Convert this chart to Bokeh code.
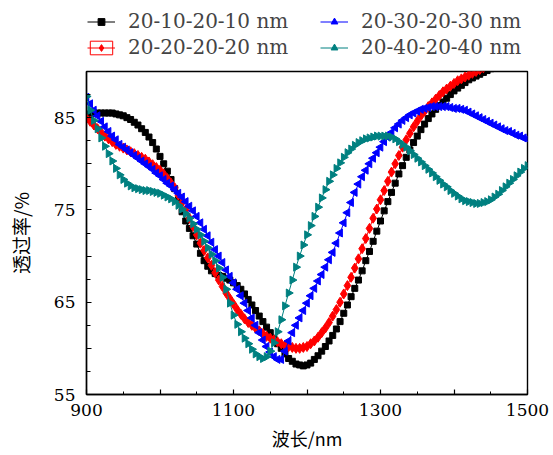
import math
from bokeh.plotting import figure
from bokeh.layouts import column
from bokeh.models import (ColumnDataSource, FixedTicker, Legend, LegendItem, Range1d)
from bokeh.embed import file_html
from bokeh.resources import INLINE

wavelength = list(range(900, 1505, 5))

t_10 = [85.2, 85.4, 85.5, 85.5, 85.5, 85.5, 85.5, 85.5, 85.4, 85.3,
        85.2, 85.0, 84.8, 84.5, 84.2, 83.8, 83.4, 82.9, 82.3, 81.6,
        80.8, 80.0, 79.2, 78.3, 77.3, 76.1, 74.8, 73.8, 73.0, 72.2,
        71.3, 70.3, 69.5, 68.9, 68.4, 68.1, 67.9, 67.8, 67.6, 67.4,
        67.1, 66.8, 66.4, 65.9, 65.3, 64.7, 64.1, 63.5, 62.9, 62.3,
        61.7, 61.1, 60.5, 60.0, 59.4, 58.9, 58.6, 58.3, 58.2, 58.1,
        58.2, 58.4, 58.8, 59.2, 59.7, 60.2, 60.8, 61.4, 62.1, 62.9,
        63.8, 64.7, 65.6, 66.5, 67.4, 68.4, 69.5, 70.5, 71.6, 72.7,
        73.8, 74.9, 75.9, 76.9, 77.9, 78.9, 79.8, 80.7, 81.5, 82.3,
        83.0, 83.7, 84.3, 84.9, 85.4, 85.9, 86.3, 86.7, 87.1, 87.5,
        87.9, 88.2, 88.5, 88.8, 89.1, 89.3, 89.5, 89.7, 89.9, 90.1,
        90.3, 90.5, 90.7]

t_20 = [84.9, 84.6, 84.2, 83.8, 83.4, 83.0, 82.7, 82.4, 82.1, 81.9,
        81.7, 81.5, 81.3, 81.1, 80.9, 80.7, 80.5, 80.2, 79.9, 79.6,
        79.3, 78.9, 78.4, 77.9, 77.4, 76.6, 75.8, 75.0, 74.1, 73.2,
        72.3, 71.4, 70.6, 69.8, 69.0, 68.2, 67.4, 66.7, 66.0, 65.4,
        64.8, 64.2, 63.7, 63.2, 62.8, 62.5, 62.2, 61.9, 61.6, 61.3,
        61.1, 60.9, 60.7, 60.5, 60.3, 60.2, 60.1, 60.0, 60.0, 60.1,
        60.2, 60.5, 60.8, 61.2, 61.7, 62.2, 62.8, 63.5, 64.2, 65.0,
        65.9, 66.8, 67.7, 68.7, 69.7, 70.8, 71.9, 73.0, 74.1, 75.1,
        76.1, 77.1, 78.1, 79.1, 80.0, 80.9, 81.8, 82.6, 83.3, 84.0,
        84.6, 85.2, 85.7, 86.2, 86.6, 87.0, 87.4, 87.8, 88.1, 88.4,
        88.7, 89.0, 89.2, 89.4, 89.6, 89.8, 90.0, 90.2, 90.4]

t_30 = [87.2, 86.5, 85.8, 85.2, 84.6, 84.0, 83.5, 83.0, 82.6, 82.1,
        81.8, 81.5, 81.2, 80.9, 80.6, 80.3, 80.0, 79.7, 79.4, 79.0,
        78.7, 78.3, 77.9, 77.6, 77.2, 76.8, 76.4, 75.9, 75.4, 74.9,
        74.3, 73.6, 72.9, 72.2, 71.5, 70.7, 70.0, 69.3, 68.5, 67.8,
        67.1, 66.4, 65.7, 64.9, 64.1, 63.3, 62.5, 61.7, 60.9, 60.2,
        59.6, 59.1, 58.8, 58.8, 59.7, 60.8, 61.7, 62.5, 63.3, 64.1,
        64.9, 65.7, 66.5, 67.3, 68.0, 68.8, 69.6, 70.4, 71.4, 72.5,
        73.6, 74.7, 75.8, 76.9, 77.8, 78.6, 79.3, 80.0, 80.6, 81.2,
        81.8, 82.4, 82.9, 83.4, 83.9, 84.3, 84.7, 85.0, 85.3, 85.5,
        85.7, 85.9, 86.0, 86.1, 86.2, 86.2, 86.2, 86.2, 86.2, 86.1,
        86.0, 86.0, 85.9, 85.8, 85.6, 85.4, 85.2, 85.0, 84.8, 84.6,
        84.4, 84.2, 84.0, 83.8, 83.6, 83.5, 83.3, 83.1, 83.0, 82.8,
        82.7]

t_40 = [87.3, 85.8, 84.7, 83.8, 82.8, 81.9, 81.1, 80.3, 79.5, 78.8,
        78.3, 77.9, 77.6, 77.4, 77.3, 77.2, 77.1, 77.1, 77.0, 76.9,
        76.8, 76.6, 76.4, 76.2, 75.9, 75.5, 75.1, 74.6, 74.1, 73.5,
        72.9, 72.3, 71.6, 70.9, 70.2, 69.5, 68.7, 67.7, 66.4, 64.9,
        63.6, 62.6, 61.8, 61.1, 60.5, 59.9, 59.4, 59.1, 58.9, 59.1,
        59.7, 60.6, 61.8, 63.1, 64.6, 66.0, 67.4, 68.8, 70.0, 71.2,
        72.3, 73.3, 74.3, 75.3, 76.3, 77.2, 78.1, 78.8, 79.5, 80.1,
        80.7, 81.2, 81.6, 82.0, 82.3, 82.5, 82.7, 82.8, 82.9, 83.0,
        83.0, 83.0, 83.0, 82.9, 82.7, 82.4, 82.1, 81.8, 81.4, 81.0,
        80.6, 80.2, 79.8, 79.4, 79.0, 78.6, 78.2, 77.8, 77.5, 77.1,
        76.8, 76.5, 76.2, 76.0, 75.9, 75.8, 75.7, 75.7, 75.8, 75.9,
        76.1, 76.4, 76.7, 77.1, 77.5, 77.9, 78.3, 78.7, 79.1, 79.5,
        79.8]

labels = ["20-10-20-10 nm", "20-20-20-20 nm", "20-30-20-30 nm", "20-40-20-40 nm"]
colors = ["black", "red", "blue", "#008080"]
x_tick_labels = {900: "900", 1100: "1100", 1300: "1300", 1500: "1500"}
y_tick_labels = {55: "55", 65: "65", 75: "75", 85: "85"}
x_title = "波长/nm"
y_title = "透过率/%"

SERIF = "DejaVu Serif"
CJK = "Noto Sans CJK SC"
TOP_H = 60

src10 = ColumnDataSource(dict(x=wavelength[:len(t_10)], y=t_10))
src20 = ColumnDataSource(dict(x=wavelength[:len(t_20)], y=t_20))
src30 = ColumnDataSource(dict(x=wavelength[:len(t_30)], y=t_30))
src40 = ColumnDataSource(dict(x=wavelength[:len(t_40)], y=t_40))

LEFT = math.pi / 2     # triangle pointing left
RIGHT = -math.pi / 2   # triangle pointing right

def draw_series(fig):
    r = {}
    r["l10"] = fig.line("x", "y", source=src10, line_color=colors[0], line_width=1)
    r["s10"] = fig.scatter("x", "y", source=src10, marker="square", size=6, color=colors[0])
    r["l20"] = fig.line("x", "y", source=src20, line_color=colors[1], line_width=1)
    r["s20"] = fig.scatter("x", "y", source=src20, marker="diamond", size=10, color=colors[1])
    r["l30"] = fig.line("x", "y", source=src30, line_color=colors[2], line_width=1)
    r["s30"] = fig.scatter("x", "y", source=src30, marker="triangle", size=8, color=colors[2], angle=LEFT)
    r["l40"] = fig.line("x", "y", source=src40, line_color=colors[3], line_width=1)
    r["s40"] = fig.scatter("x", "y", source=src40, marker="triangle", size=8, color=colors[3], angle=RIGHT)
    return r

# ---------------- main plot ----------------
p = figure(width=553, height=455 - TOP_H, output_backend="svg", toolbar_location=None,
           x_range=Range1d(900, 1500), y_range=Range1d(55, 90),
           min_border_left=86, min_border_right=26, min_border_top=71 - TOP_H,
           min_border_bottom=61)
p.xgrid.visible = False
p.ygrid.visible = False
p.outline_line_color = "black"
p.outline_line_width = 1.4

def style_axis(ax):
    ax.axis_line_color = "black"
    ax.axis_line_width = 1.4
    ax.major_tick_line_color = "black"
    ax.minor_tick_line_color = "black"
    ax.major_tick_line_width = 1.2
    ax.minor_tick_line_width = 1.0
    ax.major_tick_in = 5
    ax.major_tick_out = 0
    ax.minor_tick_out = 0
    ax.major_label_text_font = SERIF
    ax.major_label_text_font_size = "17px"
    ax.major_label_text_color = "black"
    ax.axis_label_text_font = CJK
    ax.axis_label_text_font_style = "normal"
    ax.axis_label_text_color = "black"

xa = p.xaxis[0]
ya = p.yaxis[0]
style_axis(xa)
style_axis(ya)

xmaj = list(range(900, 1501, 100))
xa.ticker = FixedTicker(ticks=xmaj, minor_ticks=list(range(950, 1500, 100)))
xa.major_label_overrides = {t: x_tick_labels.get(t, "") for t in xmaj}
xa.minor_tick_in = 3
xa.major_label_standoff = 9
xa.axis_label = x_title
xa.axis_label_standoff = 6
xa.axis_label_text_font_size = "18px"

ymaj = list(range(55, 91, 5))
ya.ticker = FixedTicker(ticks=ymaj, minor_ticks=[v + 2.5 for v in range(55, 90, 5)])
ya.major_label_overrides = {t: y_tick_labels.get(t, "") for t in ymaj}
ya.minor_tick_in = 4
ya.major_label_standoff = 11
ya.axis_label = y_title
ya.axis_label_standoff = 17
ya.axis_label_text_font_size = "19px"

draw_series(p)

# ---------------- legend strip (its own series renderers sit outside its ranges) ----------------
lf = figure(width=553, height=TOP_H, output_backend="svg", toolbar_location=None,
            x_axis_type=None, y_axis_type=None, x_range=Range1d(0, 1), y_range=Range1d(0, 1),
            min_border=0)
lf.outline_line_color = None
lf.grid.visible = False

lr = draw_series(lf)
box20 = lf.rect("x", "y", width=1, height=1, source=src20, fill_alpha=0,
                line_color=colors[1], line_width=1)

legend = Legend(items=[LegendItem(label=labels[0], renderers=[lr["l10"], lr["s10"]]),
                       LegendItem(label=labels[1], renderers=[box20, lr["l20"], lr["s20"]]),
                       LegendItem(label=labels[2], renderers=[lr["l30"], lr["s30"]]),
                       LegendItem(label=labels[3], renderers=[lr["l40"], lr["s40"]])],
                location=(1, 1), orientation="vertical", ncols=2,
                glyph_width=28, glyph_height=17, label_standoff=13, spacing=2,
                padding=0, margin=0, border_line_alpha=0, background_fill_alpha=0,
                label_text_font=SERIF, label_text_font_size="20px",
                label_height=20, label_width=190)
lf.add_layout(legend)

layout = column(lf, p, spacing=0)
open("out.html", "w").write(file_html(layout, INLINE))
